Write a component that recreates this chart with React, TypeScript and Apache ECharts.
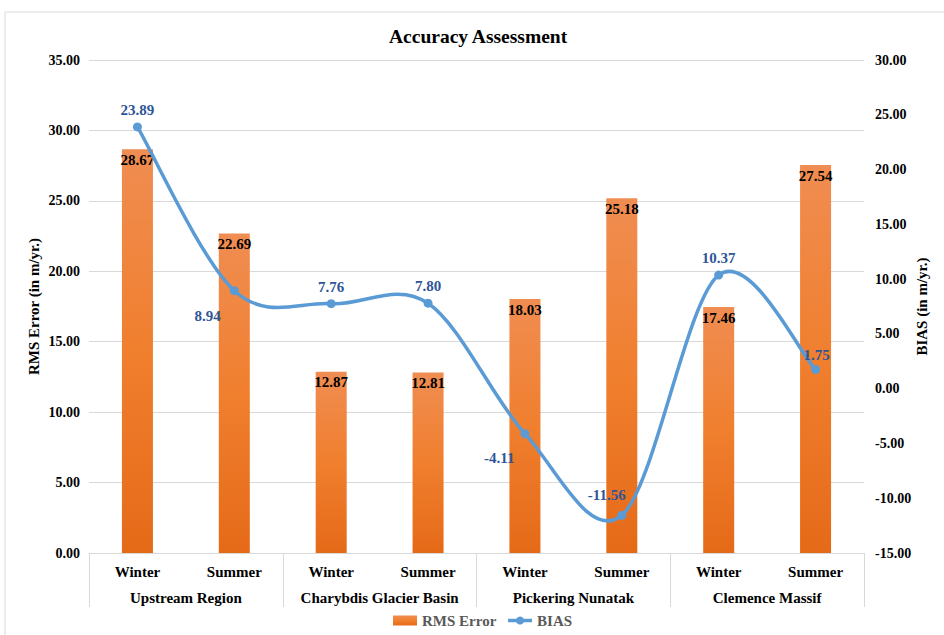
import React, { useEffect, useRef } from "react";
import * as echarts from "echarts";

const seasons = ["Winter", "Summer", "Winter", "Summer", "Winter", "Summer", "Winter", "Summer"];
const regions = ["Upstream Region", "Charybdis Glacier Basin", "Pickering Nunatak", "Clemence Massif"];
const rmsError = [28.67, 22.69, 12.87, 12.81, 18.03, 25.18, 17.46, 27.54];
const bias = [23.89, 8.94, 7.76, 7.8, -4.11, -11.56, 10.37, 1.75];
const biasLabelPos = ["top", "left", "top", "top", "left", "top", "top", "top"];
const biasLabelOffset = [[0, 3], [-1, 25], [0, 3], [0, 3], [2, 24], [-15, 0], [0, 3], [1, 6]];

const FONT = "Times New Roman, serif";
const LINE_COLOR = "#5B9BD5";

export default function App() {
  const ref = useRef<HTMLDivElement>(null);
  useEffect(() => {
    const chart = echarts.init(ref.current!, null, { renderer: "svg" });
    const n = bias.length;
    const option: any = {
      animation: false,
      backgroundColor: "#fff",
      textStyle: { fontFamily: FONT },
      title: {
        text: "Accuracy Assessment",
        left: 384,
        top: 21,
        textStyle: { fontFamily: FONT, fontSize: 19.5, fontWeight: "bold", color: "#000" },
      },
      graphic: [
        {
          type: "rect",
          shape: { x: 5, y: 12, width: 960, height: 660 },
          style: { fill: "none", stroke: "#D9D9D9", lineWidth: 1 },
          silent: true,
        },
      ],
      legend: {
        bottom: 2,
        left: 388,
        itemGap: 10,
        itemWidth: 24,
        itemHeight: 10,
        textStyle: { fontFamily: FONT, fontSize: 15, fontWeight: "bold", color: "#595959" },
        data: [
          { name: "RMS Error", icon: "rect" },
          { name: "BIAS", lineStyle: { opacity: 1, color: LINE_COLOR, width: 3.5 } },
        ],
      },
      grid: { left: 89, right: 80, top: 60, bottom: 82 },
      xAxis: [
        {
          type: "category",
          data: seasons,
          position: "bottom",
          axisLine: { show: true, onZero: false, lineStyle: { color: "#D9D9D9" } },
          axisTick: { show: false },
          axisLabel: {
            interval: 0,
            margin: 11,
            fontFamily: FONT,
            fontSize: 15,
            fontWeight: "bold",
            color: "#000",
          },
        },
        {
          type: "category",
          data: regions,
          position: "bottom",
          axisLine: { show: false, onZero: false },
          axisTick: { show: true, interval: 0, length: 54, lineStyle: { color: "#D9D9D9" } },
          axisLabel: {
            interval: 0,
            margin: 37,
            fontFamily: FONT,
            fontSize: 15,
            fontWeight: "bold",
            color: "#000",
          },
        },
      ],
      yAxis: [
        {
          type: "value",
          min: 0,
          max: 35,
          interval: 5,
          name: "RMS Error (in m/yr.)",
          nameLocation: "middle",
          nameGap: 48,
          nameMoveOverlap: false,
          nameTextStyle: { fontFamily: FONT, fontSize: 15, fontWeight: "bold", color: "#000" },
          axisLine: { show: false },
          axisTick: { show: false },
          splitLine: { lineStyle: { color: "#D9D9D9" } },
          axisLabel: {
            margin: 9,
            fontFamily: FONT,
            fontSize: 14,
            fontWeight: "bold",
            color: "#000",
            formatter: (v: number) => v.toFixed(2),
          },
        },
        {
          type: "value",
          min: -15,
          max: 30,
          interval: 5,
          name: "BIAS (in m/yr.)",
          nameLocation: "middle",
          nameGap: 50,
          nameMoveOverlap: false,
          nameTextStyle: { fontFamily: FONT, fontSize: 15, fontWeight: "bold", color: "#000" },
          axisLine: { show: false },
          axisTick: { show: false },
          splitLine: { show: false },
          axisLabel: {
            margin: 11,
            fontFamily: FONT,
            fontSize: 14,
            fontWeight: "bold",
            color: "#000",
            formatter: (v: number) => v.toFixed(2),
          },
        },
      ],
      series: [
        {
          name: "RMS Error",
          type: "bar",
          xAxisIndex: 0,
          yAxisIndex: 0,
          barWidth: 31,
          data: rmsError,
          itemStyle: {
            color: new echarts.graphic.LinearGradient(0, 0, 0, 1, [
              { offset: 0, color: "#F08D52" },
              { offset: 0.5, color: "#F07F2E" },
              { offset: 1, color: "#E56A18" },
            ]),
          },
          label: {
            show: true,
            position: "insideTop",
            distance: 3,
            fontFamily: FONT,
            fontSize: 15,
            fontWeight: "bold",
            color: "#000",
            formatter: (p: any) => p.value.toFixed(2),
          },
        },
        {
          name: "BIAS curve",
          type: "custom",
          xAxisIndex: 0,
          yAxisIndex: 1,
          clip: false,
          silent: true,
          z: 4,
          data: bias.map((v, i) => [i, v]),
          renderItem: (params: any, api: any) => {
            const i = params.dataIndex;
            if (i >= n - 1) return null;
            const P = (k: number) => {
              const kk = Math.max(0, Math.min(n - 1, k));
              return api.coord([kk, bias[kk]]);
            };
            const p0 = P(i - 1);
            const p1 = P(i);
            const p2 = P(i + 1);
            const p3 = P(i + 2);
            const t = 6;
            return {
              type: "bezierCurve",
              shape: {
                x1: p1[0],
                y1: p1[1],
                x2: p2[0],
                y2: p2[1],
                cpx1: p1[0] + (p2[0] - p0[0]) / t,
                cpy1: p1[1] + (p2[1] - p0[1]) / t,
                cpx2: p2[0] - (p3[0] - p1[0]) / t,
                cpy2: p2[1] - (p3[1] - p1[1]) / t,
              },
              style: { stroke: LINE_COLOR, lineWidth: 3.5, fill: "none", lineCap: "round" },
            };
          },
        },
        {
          name: "BIAS",
          type: "line",
          xAxisIndex: 0,
          yAxisIndex: 1,
          symbol: "circle",
          symbolSize: 9,
          lineStyle: { color: LINE_COLOR, width: 3.5, opacity: 0 },
          itemStyle: { color: LINE_COLOR },
          data: bias.map((v, i) => ({
            value: v,
            label: {
              show: true,
              position: biasLabelPos[i],
              offset: biasLabelOffset[i],
              distance: 8,
              fontFamily: FONT,
              fontSize: 15,
              fontWeight: "bold",
              color: "#2F5597",
              formatter: (p: any) => p.value.toFixed(2),
            },
          })),
          z: 5,
        },
      ],
    };
    chart.setOption(option);
    return () => chart.dispose();
  }, []);
  return (
    <div
      ref={ref}
      style={{ position: "fixed", left: 0, top: 0, width: 944, height: 635 }}
    />
  );
}
